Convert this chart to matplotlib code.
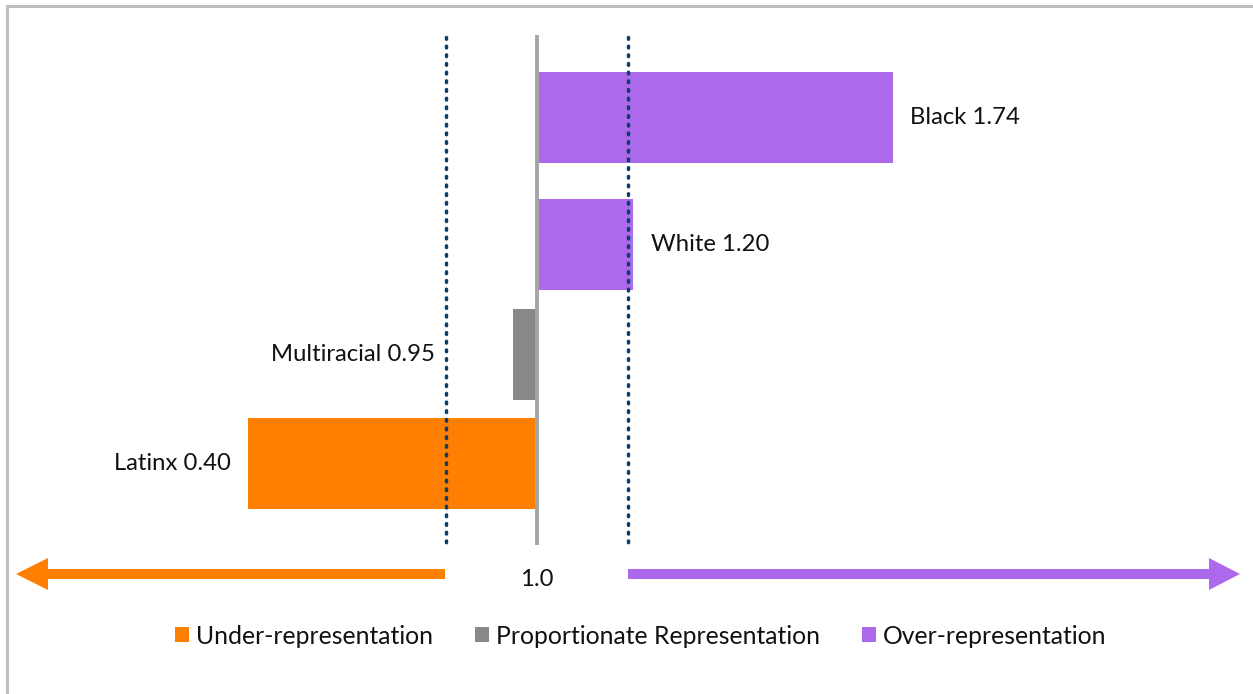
import matplotlib
matplotlib.use("Agg")
import matplotlib.pyplot as plt
from matplotlib.patches import Polygon, Patch

plt.rcParams['font.family'] = ['Lato', 'DejaVu Sans']

# ---- data ----
groups = ["Black", "White", "Multiracial", "Latinx"]
ratios = [1.74, 1.20, 0.95, 0.40]
categories = ["over", "over", "proportionate", "under"]
parity = 1.0
thresholds = [0.81, 1.19]
legend_labels = ["Under-representation", "Proportionate Representation", "Over-representation"]
center_label = "1.0"

# ---- style ----
colors = {"under": "#FF8000", "proportionate": "#888888", "over": "#AD69EB"}
W, H = 1253, 694
fig = plt.figure(figsize=(W / 100, H / 100), dpi=100)

# pixel mapping for value axis: x_px = 537 + 481*(v-1)
px_per_unit = 481.0
x0_px = 537.0
xmin = parity - x0_px / px_per_unit
xmax = parity + (W - x0_px) / px_per_unit

ax = fig.add_axes([0, 0, 1, 1])
ax.set_xlim(xmin, xmax)
ax.set_ylim(H, 0)
ax.axis("off")

bar_centers = [117, 244.5, 354, 463.5]
bar_h = 91

for g, r, c, yc in zip(groups, ratios, categories, bar_centers):
    left = min(parity, r)
    width = abs(r - parity)
    ax.barh(yc, width, left=left, height=bar_h, color=colors[c], zorder=2)

# labels
label_offsets = {"Black": 17, "White": 18, "Multiracial": -78, "Latinx": -18}
for g, r, yc in zip(groups, ratios, bar_centers):
    off = label_offsets[g]
    ha = "left" if off > 0 else "right"
    ax.annotate(f"{g} {r:.2f}", xy=(r, yc), xytext=(off * 0.72, 0),
                textcoords="offset points", ha=ha, va="center",
                fontsize=17.2, color="#111111")

# center line and thresholds
ax.plot([parity, parity], [35, 545], color="#A6A6A6", lw=2.8, zorder=3,
        solid_capstyle="butt")
for t in thresholds:
    ax.plot([t, t], [37, 543], color="#0B3F6B", lw=2.5, ls=(0, (0.5, 2.0)),
            dash_capstyle="round", zorder=4)

# decoration axes in pixel coordinates
deco = fig.add_axes([0, 0, 1, 1], zorder=-1)
deco.set_xlim(0, W)
deco.set_ylim(H, 0)
deco.axis("off")

# outer frame
deco.plot([7, 7, W + 5], [H + 5, 5.5, 5.5], color="#BFBFBF", lw=2.2,
          solid_joinstyle="miter")

# arrows
yc_arrow = 574
shaft = 5
head = 16
left_arrow = [(16, yc_arrow), (48, yc_arrow - head), (48, yc_arrow - shaft),
              (445, yc_arrow - shaft), (445, yc_arrow + shaft),
              (48, yc_arrow + shaft), (48, yc_arrow + head)]
right_arrow = [(1240, yc_arrow), (1209, yc_arrow - head), (1209, yc_arrow - shaft),
               (628, yc_arrow - shaft), (628, yc_arrow + shaft),
               (1209, yc_arrow + shaft), (1209, yc_arrow + head)]
deco.add_patch(Polygon(left_arrow, closed=True, color=colors["under"], lw=0))
deco.add_patch(Polygon(right_arrow, closed=True, color=colors["over"], lw=0))

ax.text(parity, 580, center_label, ha="center", va="center", fontsize=17.2,
        color="#111111")

# legend
handles = [Patch(facecolor=colors[k], edgecolor="none")
           for k in ["under", "proportionate", "over"]]
leg = fig.legend(handles, legend_labels, loc="center",
                 bbox_to_anchor=(641 / W, 1 - 636 / H), ncol=3, frameon=False,
                 fontsize=17.8, handlelength=0.57, handleheight=0.57,
                 handletextpad=0.28, columnspacing=1.7, borderaxespad=0)
for txt in leg.get_texts():
    txt.set_color("#111111")

fig.savefig("out.png", dpi=100)
